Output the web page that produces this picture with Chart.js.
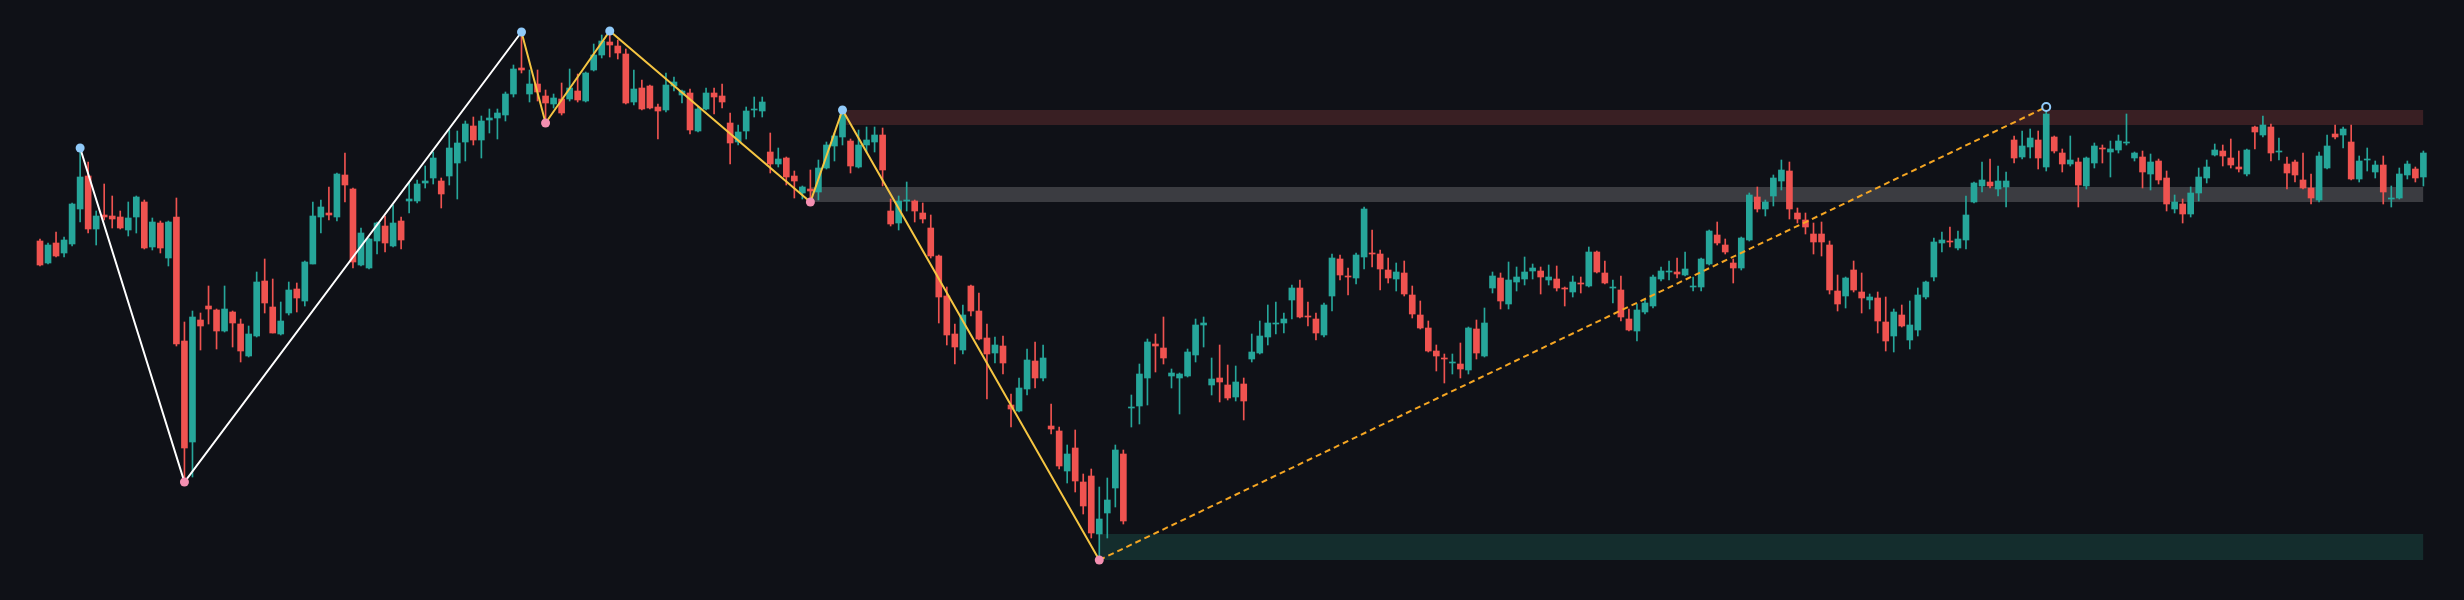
<!DOCTYPE html>
<html><head><meta charset="utf-8">
<script src="https://cdn.jsdelivr.net/npm/chart.js@4.4.1/dist/chart.umd.min.js"></script>
<style>html,body{margin:0;padding:0;background:#0f1117;overflow:hidden}#wrap{width:2464px;height:600px;position:relative}</style>
</head><body><div id="wrap"><canvas id="c"></canvas></div>
<script>
// ---- DATA (price units) ----
const opens = [359,337,357,347,356,391,424,371,385,384,383,370,383,398,353,377,342,383,259,158,280,294,290,269,288,276,244,264,319,293,266,287,311,299,336,383,387,383,425,411,335,332,359,374,354,379,399,399,417,422,419,424,437,458,474,460,480,482,485,506,532,506,516,504,496,501,501,509,499,530,545,558,554,546,498,512,514,493,490,514,505,507,469,491,507,504,477,458,469,490,489,448,436,442,424,407,411,408,432,454,463,459,433,455,458,465,389,377,399,399,387,372,344,304,266,250,314,289,262,247,254,195,189,211,239,222,174,169,129,152,118,124,66,87,112,146,192,194,222,256,252,224,222,224,245,275,215,222,215,203,216,241,247,263,276,277,300,312,284,281,265,304,341,324,322,343,347,346,330,321,327,305,285,272,249,242,237,236,230,271,244,312,322,296,318,321,329,329,320,321,312,308,317,314,348,327,312,310,281,269,288,294,321,328,328,325,313,313,336,365,355,337,332,360,403,391,404,419,429,387,380,366,366,355,309,304,330,308,300,302,278,264,285,260,270,303,323,357,359,352,360,398,414,418,411,413,460,443,453,460,433,463,447,436,438,414,437,452,448,450,457,442,443,426,439,422,391,396,386,407,422,445,449,442,433,426,473,465,473,448,436,438,420,412,400,432,466,465,458,421,440,428,435,401,402,425,431,423];
const highs = [361,357,368,363,397,452,438,389,416,404,389,398,404,400,382,379,379,402,278,289,287,314,291,314,289,281,274,328,341,321,298,318,317,339,398,400,413,427,447,412,372,362,378,384,395,383,417,420,434,448,422,470,469,479,483,484,491,491,508,535,568,530,530,510,506,517,531,526,528,556,565,569,560,551,530,520,515,496,527,523,510,511,493,512,512,516,487,475,493,503,503,467,452,443,429,414,430,440,458,467,490,461,470,473,473,472,401,404,418,400,397,385,345,313,276,295,315,307,276,263,264,206,222,251,258,255,196,173,155,170,126,131,113,122,155,150,205,236,261,266,283,231,227,251,281,283,242,255,235,234,222,266,279,295,298,287,315,320,298,287,297,346,345,332,347,393,370,350,342,337,339,314,299,279,255,246,246,257,273,280,292,328,327,338,333,343,336,333,335,334,313,324,323,353,349,339,320,324,291,296,301,325,333,339,342,348,323,342,370,378,361,341,363,407,413,400,425,440,438,392,387,377,378,359,325,323,339,327,306,308,303,291,295,299,312,319,362,368,373,369,404,418,438,441,434,428,464,469,471,469,493,464,451,464,442,443,457,455,459,465,486,448,449,446,441,429,405,401,413,432,440,456,455,461,449,451,474,484,476,462,443,440,447,426,448,465,475,473,475,444,452,439,444,414,432,439,433,449];
const lows = [334,336,343,343,354,378,367,355,380,372,371,364,367,351,350,347,334,254,118,123,250,276,251,268,253,238,243,263,287,267,265,285,288,294,336,367,380,379,398,332,334,331,346,348,353,351,387,397,412,416,392,415,401,439,455,442,467,461,479,503,527,498,499,477,492,485,499,498,498,529,542,543,541,496,495,490,491,461,488,509,497,466,468,490,486,492,436,455,461,483,483,427,433,415,402,401,398,400,431,439,455,427,432,448,448,414,374,370,389,378,377,342,277,255,236,246,284,260,201,237,226,173,188,205,212,219,166,131,117,108,86,62,40,62,93,76,173,176,195,228,236,212,186,223,238,253,205,198,200,199,180,238,246,255,266,267,281,282,274,260,263,289,320,305,316,331,333,310,317,309,304,282,271,248,229,217,226,222,226,241,243,307,291,291,309,315,321,306,315,309,294,303,307,313,327,316,297,279,269,259,286,292,319,320,322,324,309,309,335,355,346,317,330,359,388,384,394,410,381,377,366,346,344,306,289,292,308,287,291,267,249,248,273,251,264,301,319,348,353,350,351,397,408,412,404,393,437,441,442,431,429,447,428,434,393,411,432,437,423,447,455,439,412,410,416,389,387,377,383,399,417,444,434,432,428,424,451,463,439,440,411,418,411,396,398,431,461,452,420,418,429,422,396,393,401,421,418,414];
const closes = [335,355,344,360,396,423,371,384,383,381,372,382,403,352,378,352,378,256,152,283,274,291,269,291,277,249,266,318,297,267,279,310,302,338,384,393,385,426,415,338,367,361,377,357,377,360,401,416,419,442,406,452,457,476,460,479,482,487,506,531,530,516,508,497,502,487,512,500,527,545,559,555,547,497,511,491,492,489,515,518,509,470,491,507,503,498,457,468,489,491,498,436,441,423,419,413,409,432,455,464,485,434,455,460,465,430,376,399,400,389,381,344,303,265,253,285,289,261,246,255,237,191,212,240,222,242,171,134,146,119,94,67,81,100,150,79,193,226,258,254,242,227,226,248,275,277,221,218,202,218,199,248,264,277,277,281,312,283,283,267,295,342,325,323,345,391,346,331,322,328,306,286,272,249,244,241,238,231,272,247,277,324,299,320,323,328,332,323,323,312,311,318,316,348,328,317,313,283,270,290,297,323,329,329,326,331,314,341,369,357,348,332,362,405,391,398,422,430,391,381,373,358,358,310,296,322,310,302,303,279,259,288,274,275,305,318,358,360,358,361,385,417,420,414,419,419,442,454,462,442,486,449,436,440,415,442,454,451,451,459,458,447,428,438,420,396,398,386,407,423,433,450,444,435,431,450,468,475,447,449,427,425,412,402,444,454,463,471,421,439,441,435,408,402,426,436,422,447];

// pivot legs (candle index, price)
const whiteLegIdx = [5, 18, 60];
const whiteLegPrice = [452, 118, 568];
const yellowLegIdx = [60, 63, 71, 96, 100, 132];
const yellowLegPrice = [568, 477, 569, 398, 490, 40];
const dashedLegIdx = [132, 250];
const dashedLegPrice = [40, 493];
const pivotHighIdx = [5, 60, 71, 100];
const pivotHighPrice = [452, 568, 569, 490];
const pivotLowIdx = [18, 63, 96, 132];
const pivotLowPrice = [118, 477, 398, 40];
const openPivotIdx = [250];
const openPivotPrice = [493];

// zones: start index, end index, top, bottom
const zoneStart = [100, 96, 132];
const zoneEnd = [297, 297, 297];
const zoneTop = [490, 413, 66];
const zoneBottom = [475, 398, 40];

// ---- STYLE ----
const BG = '#0f1117';
const UP = '#26a69a', DOWN = '#ef5350';
const zoneFill = ['#391f23', '#3b3c41', '#142d2d'];

const idx = opens.map((_, i) => i);
const candleColors = idx.map(i => closes[i] >= opens[i] ? UP : DOWN);
const bodyData = idx.map(i => ({x: i, y: [Math.min(opens[i], closes[i]), Math.max(opens[i], closes[i])]}));
const wickData = idx.map(i => ({x: i, y: [lows[i], highs[i]]}));
const pts = (a, b) => a.map((v, k) => ({x: v, y: b[k]}));

const zoneSets = zoneStart.map((s, k) => ({
  type: 'line', order: 10,
  data: [{x: s, y: zoneTop[k]}, {x: zoneEnd[k], y: zoneTop[k]}],
  borderWidth: 0, pointRadius: 0, tension: 0,
  fill: {value: zoneBottom[k]}, backgroundColor: zoneFill[k], borderColor: 'rgba(0,0,0,0)'
}));

const chart = new Chart(document.getElementById('c'), {
  type: 'bar',
  data: {
    datasets: [
      {type: 'scatter', order: 0, data: pts(pivotHighIdx, pivotHighPrice), pointRadius: 4.5, pointBackgroundColor: '#90caf9', pointBorderWidth: 0, showLine: false},
      {type: 'scatter', order: 0, data: pts(pivotLowIdx, pivotLowPrice), pointRadius: 4.5, pointBackgroundColor: '#f48fb1', pointBorderWidth: 0, showLine: false},
      {type: 'scatter', order: 0, data: pts(openPivotIdx, openPivotPrice), pointRadius: 4, pointBackgroundColor: BG, pointBorderColor: '#90caf9', pointBorderWidth: 2, showLine: false},
      {type: 'line', order: 1, data: pts(whiteLegIdx, whiteLegPrice), borderColor: '#ffffff', borderWidth: 2, pointRadius: 0, tension: 0, fill: false},
      {type: 'line', order: 1, data: pts(yellowLegIdx, yellowLegPrice), borderColor: '#f5c542', borderWidth: 2, pointRadius: 0, tension: 0, fill: false},
      {type: 'line', order: 1, data: pts(dashedLegIdx, dashedLegPrice), borderColor: '#f5a623', borderWidth: 2, borderDash: [6, 4], pointRadius: 0, tension: 0, fill: false},
      {type: 'bar', order: 5, data: bodyData, backgroundColor: candleColors, barThickness: 6, grouped: false, minBarLength: 1, borderWidth: 0},
      {type: 'bar', order: 6, data: wickData, backgroundColor: candleColors, barThickness: 1, grouped: false, borderWidth: 0},
      ...zoneSets
    ]
  },
  options: {
    responsive: true, maintainAspectRatio: false, animation: false, devicePixelRatio: 1,
    layout: {padding: 0, autoPadding: false},
    plugins: {legend: {display: false}, tooltip: {enabled: false}},
    scales: {
      x: {type: 'linear', display: false, min: -4.984, max: 302.06, offset: false, grid: {display: false}},
      y: {type: 'linear', display: false, min: 0, max: 600, grid: {display: false}}
    }
  }
});
</script></body></html>
